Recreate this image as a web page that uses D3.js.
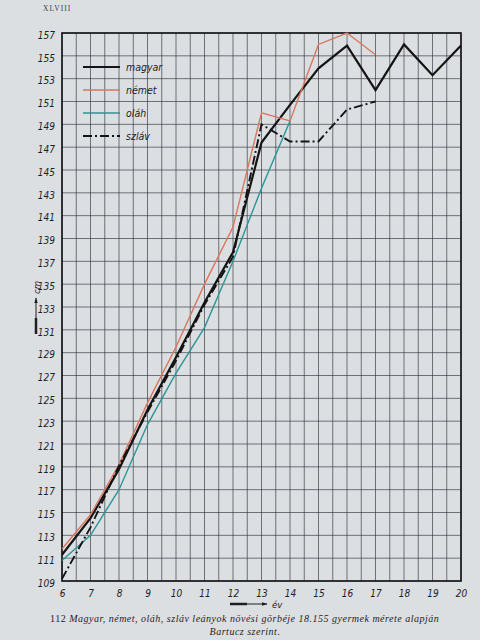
<html>
<head>
	<meta charset="utf-8">
	<script src="https://d3js.org/d3.v7.min.js"></script>
	<style>
		body { margin: 0; background: #dcdfe2; }
		svg { display: block; }
	</style>
</head>
<body>
	<script>
		// kor (év) és a tengely feliratai
		var years = [6, 7, 8, 9, 10, 11, 12, 13, 14, 15, 16, 17, 18, 19, 20];
		var yTicks = [109, 111, 113, 115, 117, 119, 121, 123, 125, 127, 129, 131, 133, 135, 137, 139, 141, 143, 145, 147, 149, 151, 153, 155, 157];

		// testmagasság (cm) évenként, a 6. évtől
		var magyar = [111.3, 114.5, 118.8, 124.0, 128.6, 133.4, 137.8, 147.4, 150.7, 153.9, 155.9, 152.0, 156.0, 153.3, 155.9];
		var nemet  = [111.8, 114.8, 119.2, 124.6, 129.5, 135.0, 140.0, 150.0, 149.3, 156.0, 157.0, 155.1];
		var olah   = [110.8, 113.0, 117.0, 122.7, 127.2, 131.2, 137.0, 143.4, 149.3];
		var szlav  = [109.2, 113.7, 119.1, 123.8, 128.3, 133.2, 137.4, 149.0, 147.5, 147.5, 150.3, 151.0];

		var w = 480; //畫布寬
		var h = 640; //畫布高
		var tickFont = "DejaVu Sans Condensed, Liberation Sans Narrow, Liberation Sans, sans-serif";

		var svg = d3.select('body').append('svg').attr('width', w).attr('height', h);

		var xScale = d3.scaleLinear().domain([6, 20]).range([62, 461]);
		var yScale = d3.scaleLinear().domain([109, 157]).range([581, 33]);

		// rács: függőleges félévenként, vízszintes 2 cm-enként
		var halfYears = d3.range(6, 20.01, 0.5);
		svg.append("g").selectAll("line").data(halfYears).enter().append("line")
			.attr("x1", function(d){ return xScale(d); }).attr("x2", function(d){ return xScale(d); })
			.attr("y1", yScale(157)).attr("y2", yScale(109))
			.attr("stroke", "#262632").attr("stroke-width", 1).attr("opacity", 0.6);
		svg.append("g").selectAll("line").data(yTicks).enter().append("line")
			.attr("x1", xScale(6)).attr("x2", xScale(20))
			.attr("y1", function(d){ return yScale(d); }).attr("y2", function(d){ return yScale(d); })
			.attr("stroke", "#262632").attr("stroke-width", 1).attr("opacity", 0.6);

		svg.append("rect").attr("x", xScale(6)).attr("y", yScale(157))
			.attr("width", xScale(20) - xScale(6)).attr("height", yScale(109) - yScale(157))
			.attr("fill", "none").attr("stroke", "#151515").attr("stroke-width", 1.6);

		// tengelyek
		var yAxis = d3.axisLeft(yScale).tickValues(yTicks).tickSize(0).tickPadding(7).tickFormat(d3.format("d"));
		var xAxis = d3.axisBottom(xScale).tickValues(years).tickSize(0).tickPadding(9).tickFormat(d3.format("d"));
		var gy = svg.append("g").attr("transform", "translate(" + xScale(6) + ",2)").call(yAxis);
		var gx = svg.append("g").attr("transform", "translate(0," + yScale(109) + ")").call(xAxis);
		[gx, gy].forEach(function(g){
			g.select(".domain").remove();
			g.selectAll("text").attr("font-family", tickFont)
				.attr("font-style", "italic").attr("font-size", 10).attr("fill", "#1e1e24");
		});

		var line = d3.line().x(function(d){ return xScale(d[0]); }).y(function(d){ return yScale(d[1]); });
		function pts(vals){ return vals.map(function(v, i){ return [years[i], v]; }); }

		var series = [
			{name: "magyar", vals: magyar, color: "#141414", width: 2.2, dash: null},
			{name: "német", vals: nemet, color: "#d8765e", width: 1.4, dash: null},
			{name: "oláh", vals: olah, color: "#2b9596", width: 1.4, dash: null},
			{name: "szláv", vals: szlav, color: "#141414", width: 1.9, dash: "9,3,2,3"}
		];

		series.forEach(function(s){
			svg.append("path").attr("fill", "none").attr("stroke", s.color).attr("stroke-width", s.width)
				.attr("stroke-dasharray", s.dash).attr("d", line(pts(s.vals)));
		});

		// jelmagyarázat
		var legend = svg.append("g");
		series.forEach(function(s, i){
			var ly = 67 + i * 23;
			legend.append("line").attr("x1", 83).attr("x2", 120).attr("y1", ly).attr("y2", ly)
				.attr("stroke", s.color).attr("stroke-width", s.width).attr("stroke-dasharray", s.dash);
			legend.append("text").attr("x", 126).attr("y", ly + 3.5).text(s.name)
				.attr("font-family", tickFont)
				.attr("font-style", "italic").attr("font-size", 10.5).attr("fill", "#1e1e24");
		});

		// tengelycímek nyíllal
		var defs = svg.append("defs");
		defs.append("marker").attr("id", "arr").attr("viewBox", "0 0 10 10").attr("refX", 9).attr("refY", 5)
			.attr("markerWidth", 6).attr("markerHeight", 6).attr("orient", "auto")
			.append("path").attr("d", "M0,2 L10,5 L0,8 Z").attr("fill", "#1e1e24");

		svg.append("line").attr("x1", 230).attr("x2", 267).attr("y1", 604).attr("y2", 604)
			.attr("stroke", "#1e1e24").attr("stroke-width", 1).attr("marker-end", "url(#arr)");
		svg.append("line").attr("x1", 230).attr("x2", 247).attr("y1", 604).attr("y2", 604)
			.attr("stroke", "#1e1e24").attr("stroke-width", 2.5);
		svg.append("text").attr("x", 272).attr("y", 608).text("év")
			.attr("font-family", tickFont)
			.attr("font-style", "italic").attr("font-size", 9.5).attr("fill", "#1e1e24");

		svg.append("line").attr("x1", 36).attr("x2", 36).attr("y1", 334).attr("y2", 298)
			.attr("stroke", "#1e1e24").attr("stroke-width", 1).attr("marker-end", "url(#arr)");
		svg.append("line").attr("x1", 36).attr("x2", 36).attr("y1", 334).attr("y2", 318)
			.attr("stroke", "#1e1e24").attr("stroke-width", 2.5);
		svg.append("text").attr("transform", "translate(40,294) rotate(-90)").text("cm")
			.attr("font-family", tickFont)
			.attr("font-style", "italic").attr("font-size", 9.5).attr("fill", "#1e1e24");

		// oldalszám és képaláírás
		svg.append("text").attr("x", 43).attr("y", 11).text("XLVIII")
			.attr("font-family", "Liberation Serif, serif").attr("font-size", 7.5)
			.attr("letter-spacing", 1).attr("fill", "#3a3a44");
		svg.append("text").attr("x", 50).attr("y", 622)
			.attr("font-family", "Liberation Serif, serif").attr("font-size", 10).attr("letter-spacing", 0.5)
			.attr("fill", "#1e1e24")
			.call(function(t){
				t.append("tspan").text("112  ");
				t.append("tspan").attr("font-style", "italic")
					.text("Magyar, német, oláh, szláv leányok növési görbéje 18.155 gyermek mérete alapján");
			});
		svg.append("text").attr("x", 245).attr("y", 635).attr("text-anchor", "middle").text("Bartucz  szerint.")
			.attr("font-family", "Liberation Serif, serif").attr("font-style", "italic").attr("letter-spacing", 0.5)
			.attr("font-size", 10).attr("fill", "#1e1e24");
	</script>
</body>
</html>
